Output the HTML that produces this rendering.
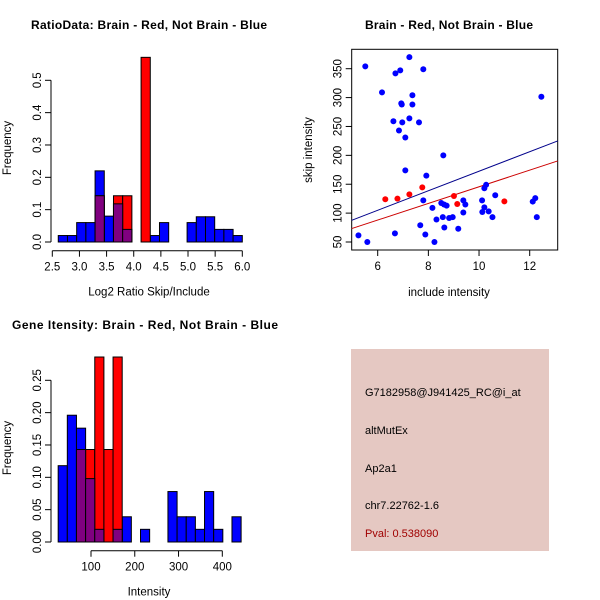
<!DOCTYPE html>
<html><head><meta charset="utf-8"><style>
body{margin:0;background:#fff}
svg{display:block;font-family:"Liberation Sans",Arial,sans-serif}
</style></head><body>
<svg id="c" width="600" height="600" viewBox="0 0 600 600">
<rect width="600" height="600" fill="#fff"/>
<text x="149" y="29" font-size="12" font-weight="bold" text-anchor="middle" textLength="236">RatioData: Brain - Red, Not Brain - Blue</text>
<text x="449" y="29" font-size="12" font-weight="bold" text-anchor="middle" textLength="168">Brain - Red, Not Brain - Blue</text>
<text x="145" y="329" font-size="12" font-weight="bold" text-anchor="middle" textLength="266">Gene Itensity: Brain - Red, Not Brain - Blue</text>
<g id="p1"></g>
<g id="p2"></g>
<g id="p3"></g>
<g>
<rect x="351" y="349" width="198" height="202" fill="#e5c8c2"/>
<g font-size="11" fill="#000">
<text x="365" y="396">G7182958@J941425_RC@i_at</text>
<text x="365" y="434">altMutEx</text>
<text x="365" y="472">Ap2a1</text>
<text x="365" y="509">chr7.22762-1.6</text>
<text x="365" y="537" fill="#a00000">Pval: 0.538090</text>
</g></g>
</svg>
<script>
// ---- Ratio histogram data
const ratioStart = 2.61, ratioWidth = 0.1695;
const ratioBlue = [0.02,0.02,0.06,0.06,0.22,0.08,0.118,0.039,0,0,0.02,0.06,0,0,0.06,0.078,0.078,0.039,0.039,0.02];
const ratioRed  = [0,0,0,0,0.143,0,0.143,0.143,0,0.571,0,0,0,0,0,0,0,0,0,0];
const ratioXTicks = [2.5,3.0,3.5,4.0,4.5,5.0,5.5,6.0];
const ratioYTicks = [0,0.1,0.2,0.3,0.4,0.5];
// ---- Intensity histogram data
const intStart = 25, intWidth = 20.9;
const intBlue = [0.118,0.196,0.176,0.098,0.0196,0,0.0196,0.039,0,0.0196,0,0,0.078,0.039,0.039,0.0196,0.078,0.0196,0,0.039];
const intRed  = [0,0,0.143,0.143,0.286,0.143,0.286,0,0,0,0,0,0,0,0,0,0,0,0,0];
const intXTicks = [100,200,300,400];
const intYTicks = [0,0.05,0.10,0.15,0.20,0.25];
// ---- Scatter data
const blueX = [5.51,5.24,5.59,6.17,6.70,6.89,7.25,7.80,7.37,6.93,6.95,7.37,6.62,6.97,7.25,7.63,6.84,7.09,7.09,8.59,7.92,7.80,6.68,7.68,7.88,8.24,8.16,8.32,8.51,8.57,8.63,8.62,8.72,8.82,8.96,9.18,9.38,9.46,9.38,10.12,10.13,10.21,10.28,10.21,10.38,10.53,10.64,12.12,12.22,12.28,12.46];
const blueY = [354,61.5,50,309,342,347,370,349,304,290,288,288,259,257,264,257,243,231,174,200,165,122,65,79,63,50,109,89,117.5,93,75,115,113,91.5,93,73,122,115,101,122,102,143,149,110,103,93,131,120,126,93,301.5];
const redX = [6.30,6.78,7.25,7.76,9.01,9.14,11.0];
const redY = [124,125,132.5,144.6,129.6,115.8,120.4];
const blueFit = [3.5,16.9];   // intercept, slope
const redFit = [1.6,14.4];
const scXTicks = [6,8,10,12];
const scYTicks = [50,100,150,200,250,300,350];

const NS = "http://www.w3.org/2000/svg";
function mk(parent, tag, attrs){const e=document.createElementNS(NS,tag);for(const k in attrs)e.setAttribute(k,attrs[k]);parent.appendChild(e);return e;}
function lin(d0,d1,r0,r1){return v=>r0+(v-d0)*(r1-r0)/(d1-d0);}

function hist(g, o){
  const sx=lin(o.xd[0],o.xd[1],o.xr[0],o.xr[1]), sy=lin(0,o.yMax,o.y0,o.yTop);
  const draw=(i,v,col)=>{ if(v<=0) return;
    const x0=sx(o.start+i*o.w), x1=sx(o.start+(i+1)*o.w);
    const r=mk(g,'rect',{x:x0,y:sy(v),width:x1-x0,height:sy(0)-sy(v),fill:col,stroke:'#000','stroke-width':1});
    
    
  };
  o.blue.forEach((v,i)=>draw(i,v,'#0000ff'));
  o.red.forEach((v,i)=>draw(i,v,'#ff0000'));
  o.blue.forEach((v,i)=>{ if(o.red[i]>0&&v>0) draw(i,Math.min(v,o.red[i]),'#800080'); });
  const yx=o.yAxisX;
  mk(g,'line',{x1:yx,x2:yx,y1:sy(o.yt[0]),y2:sy(o.yt[o.yt.length-1]),stroke:'#000'});
  o.yt.forEach(t=>{const y=sy(t);mk(g,'line',{x1:yx-6,x2:yx,y1:y,y2:y,stroke:'#000'});
    const tx=mk(g,'text',{x:yx-10,y:y,'font-size':11.5,'text-anchor':'middle',transform:`rotate(-90 ${yx-10} ${y})`});tx.textContent=o.yfmt(t);
    
    });
  const ay=o.xAxisY;
  mk(g,'line',{x1:sx(o.xt[0]),x2:sx(o.xt[o.xt.length-1]),y1:ay,y2:ay,stroke:'#000'});
  o.xt.forEach(t=>{const x=sx(t);mk(g,'line',{x1:x,x2:x,y1:ay,y2:ay+6,stroke:'#000'});
    const tx=mk(g,'text',{x:x,y:ay+20,'font-size':11.5,'text-anchor':'middle'});tx.textContent=o.xfmt(t);
    
    });
  const xl=mk(g,'text',{x:o.xlx,y:ay+45,'font-size':11.5,'text-anchor':'middle'});xl.textContent=o.xlab;
  
  
  const yl=mk(g,'text',{x:11,y:o.yly,'font-size':11.5,'text-anchor':'middle',transform:`rotate(-90 11 ${o.yly})`});yl.textContent='Frequency';
  
  
}

hist(document.getElementById('p1'),{start:ratioStart,w:ratioWidth,blue:ratioBlue,red:ratioRed,
  xd:[2.5,6.0],xr:[52.3,242.3],yMax:0.5,y0:242,yTop:80.3,yAxisX:51,xAxisY:250.7,
  xt:ratioXTicks,yt:ratioYTicks,xfmt:t=>t.toFixed(1),yfmt:t=>t.toFixed(1),xlab:'Log2 Ratio Skip/Include',xlx:149,yly:148});
hist(document.getElementById('p3'),{start:intStart,w:intWidth,blue:intBlue,red:intRed,
  xd:[100,400],xr:[91,222.3],yMax:0.25,y0:542,yTop:380.3,yAxisX:51,xAxisY:550.7,
  xt:intXTicks,yt:intYTicks,xfmt:t=>String(t),yfmt:t=>t.toFixed(2),xlab:'Intensity',xlx:149,yly:448});

(function(){
  const g=document.getElementById('p2');
  const L=351.7,R=557.7,T=49.3,B=250;
  const sx=lin(6,12,377.7,529.7), sy=lin(50,350,242,68.7);
  mk(g,'rect',{x:L,y:T,width:R-L,height:B-T,fill:'none',stroke:'#000'});
  const xlo=(L-377.7)/25.333+6, xhi=(R-377.7)/25.333+6;
  const line=(f,col,nm)=>{const l=mk(g,'line',{x1:L,x2:R,y1:sy(f[0]+f[1]*xlo),y2:sy(f[0]+f[1]*xhi),stroke:col,'stroke-width':1});
    
    };
  line(blueFit,'#00008b','blue-fit-line');
  line(redFit,'#cc0000','red-fit-line');
  blueX.forEach((x,i)=>{const c=mk(g,'circle',{cx:sx(x),cy:sy(blueY[i]),r:3,fill:'#0000ff'});
    
    });
  redX.forEach((x,i)=>{const c=mk(g,'circle',{cx:sx(x),cy:sy(redY[i]),r:3,fill:'#ff0000'});
    
    });
  scXTicks.forEach(t=>{const x=sx(t);mk(g,'line',{x1:x,x2:x,y1:B,y2:B+6,stroke:'#000'});
    const tx=mk(g,'text',{x:x,y:B+20,'font-size':11.5,'text-anchor':'middle'});tx.textContent=t;
    
    });
  scYTicks.forEach(t=>{const y=sy(t);mk(g,'line',{x1:L-6,x2:L,y1:y,y2:y,stroke:'#000'});
    const tx=mk(g,'text',{x:L-10,y:y,'font-size':11.5,'text-anchor':'middle',transform:`rotate(-90 ${L-10} ${y})`});tx.textContent=t;
    
    });
  const xl=mk(g,'text',{x:449,y:296,'font-size':11.5,'text-anchor':'middle'});xl.textContent='include intensity';
  
  
  const yl=mk(g,'text',{x:312,y:150,'font-size':11.5,'text-anchor':'middle',transform:'rotate(-90 312 150)'});yl.textContent='skip intensity';
  
  
})();
</script>
</body></html>
